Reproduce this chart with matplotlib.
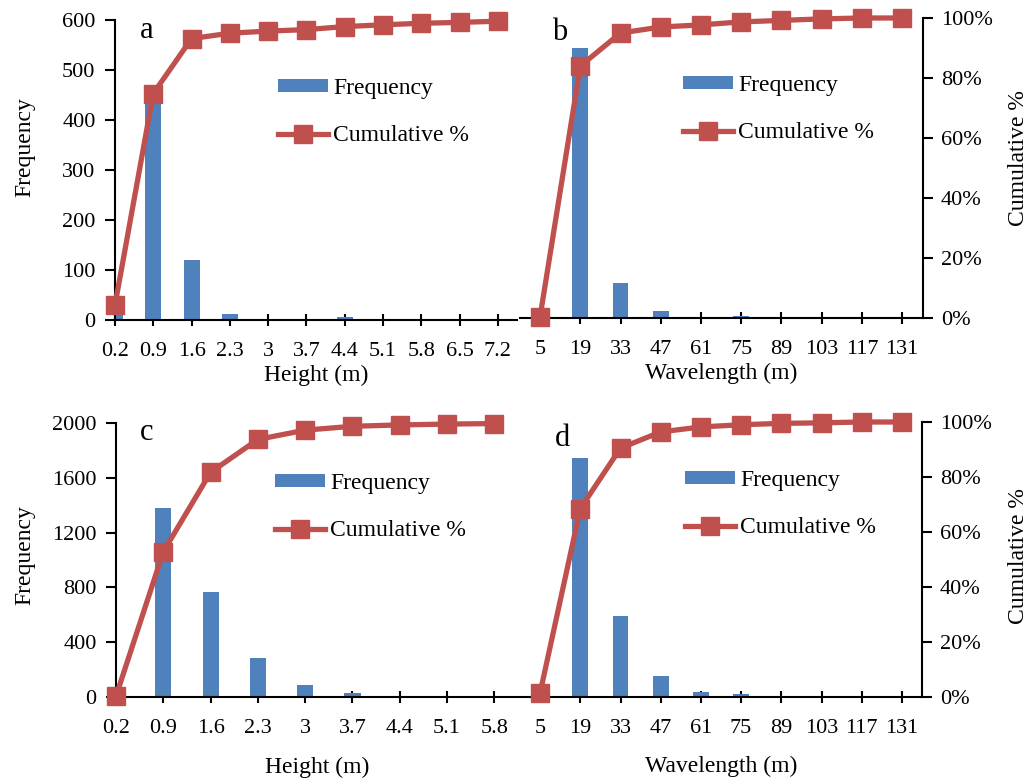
import matplotlib
matplotlib.use("Agg")
import matplotlib.pyplot as plt
from matplotlib.patches import Patch
from matplotlib.lines import Line2D
import numpy as np

plt.rcParams['font.family'] = ['Liberation Serif', 'DejaVu Serif']

# ---------------- data ----------------
a_cats = ['0.2', '0.9', '1.6', '2.3', '3', '3.7', '4.4', '5.1', '5.8', '6.5', '7.2']
a_freq = [30, 440, 120, 12, 3, 2, 6, 2, 0, 0, 0]
a_cum = [5, 75.5, 93.8, 95.6, 96.3, 96.8, 97.8, 98.4, 98.9, 99.2, 99.6]

b_cats = ['5', '19', '33', '47', '61', '75', '89', '103', '117', '131']
b_freq = [3, 540, 70, 14, 2, 5, 0, 2, 0, 0]
b_cum = [0.5, 84, 95, 97, 97.7, 98.7, 99.2, 99.7, 100, 100]

c_cats = ['0.2', '0.9', '1.6', '2.3', '3', '3.7', '4.4', '5.1', '5.8']
c_freq = [5, 1380, 770, 285, 88, 30, 10, 2, 1]
c_cum = [0.3, 53, 82, 94, 97.4, 98.8, 99.3, 99.6, 99.8]

d_cats = ['5', '19', '33', '47', '61', '75', '89', '103', '117', '131']
d_freq = [40, 1740, 590, 150, 40, 20, 2, 0, 0, 0]
d_cum = [1.5, 68.5, 90.5, 96.4, 98.2, 99.0, 99.5, 99.7, 100, 100]

BLUE = '#4F81BD'
RED = '#C0504D'
W, H = 1032, 783
FS = 16
LFS = 17

fig = plt.figure(figsize=(W / 100, H / 100), dpi=100)


def px_axes(left, right, top, bottom):
    return fig.add_axes([left / W, 1 - bottom / H, (right - left) / W, (bottom - top) / H])


panels = [
    # letter, cats, freq, cum, box(l,r,t,b), xlim, ymax, yticks, barw, xlabel, side,
    # letter pos, legend pos, ylabel center y, xlabel pad
    ('a', a_cats, a_freq, a_cum, (115, 517, 20, 320), (0, 10.5), 600, np.arange(0, 601, 100), 0.42,
     'Height (m)', 'left', (147, 30), (278, 78), 147, 3),
    ('b', b_cats, b_freq, b_cum, (520, 923, 18, 318), (-0.5, 9.52), 600, None, 0.39,
     'Wavelength (m)', 'right', (560, 33), (683, 75), 158, 3),
    ('c', c_cats, c_freq, c_cum, (116, 518, 423, 697), (0, 8.5), 2000, np.arange(0, 2001, 400), 0.34,
     'Height (m)', 'left', (147, 433), (275, 473), 555, 14),
    ('d', d_cats, d_freq, d_cum, (520, 922, 422, 697), (-0.5, 9.5), 2000, None, 0.39,
     'Wavelength (m)', 'right', (563, 438), (685, 470), 556, 13),
]

for (letter, cats, freq, cum, box, xlim, ymax, yticks, barw, xlabel, side, lpos, legpos,
     ylab_y, xlpad) in panels:
    l, r, t, b = box
    ax = px_axes(l, r, t, b)
    x = np.arange(len(cats))
    ax.bar(x, freq, width=barw, color=BLUE, zorder=2)
    ax.set_xlim(*xlim)
    ax.set_ylim(0, ymax)
    ax.set_xticks(x)
    ax.set_xticklabels(cats, fontsize=FS)
    ax.tick_params(axis='x', direction='inout', length=9, width=1.5, pad=11)
    for s in ['top', 'right']:
        ax.spines[s].set_visible(False)
    ax.spines['bottom'].set_linewidth(1.5)
    ax.spines['left'].set_linewidth(1.5)

    ax2 = ax.twinx()
    ax2.set_ylim(0, 100)
    ax2.plot(x, cum, color=RED, lw=3.8, marker='s', markersize=13.5, clip_on=False, zorder=5)
    for s in ['top', 'left', 'bottom']:
        ax2.spines[s].set_visible(False)

    ylab_frac = (b - ylab_y) / (b - t)
    if side == 'left':
        ax.set_yticks(yticks)
        ax.set_yticklabels([str(v) for v in yticks], fontsize=FS)
        ax.tick_params(axis='y', direction='out', length=7, width=1.5, pad=7)
        ax.set_ylabel('Frequency', fontsize=LFS)
        ax.yaxis.set_label_coords((35 - l) / (r - l), ylab_frac)
        ax2.spines['right'].set_visible(False)
        ax2.set_yticks([])
    else:
        ax.spines['left'].set_visible(False)
        ax.set_yticks([])
        ax2.spines['right'].set_linewidth(1.5)
        pt = np.arange(0, 101, 20)
        ax2.set_yticks(pt)
        ax2.set_yticklabels([f'{v}%' for v in pt], fontsize=FS)
        ax2.tick_params(axis='y', direction='out', length=7, width=1.5, pad=6)
        ax2.set_ylabel('Cumulative %', fontsize=LFS)
        ax2.yaxis.set_label_coords((1008 - l) / (r - l), ylab_frac)

    ax.set_xlabel(xlabel, fontsize=LFS, labelpad=xlpad)
    ax.text((lpos[0] - l) / (r - l), (b - lpos[1]) / (b - t), letter, transform=ax.transAxes,
            fontsize=22, ha='center', va='center', zorder=10)

    handles = [Patch(facecolor=BLUE, edgecolor='none'),
               Line2D([], [], color=RED, lw=3.8, marker='s', markersize=13.5)]
    ax2.legend(handles, ['Frequency', 'Cumulative %'], loc='upper left',
               bbox_to_anchor=((legpos[0] - l) / (r - l), (b - legpos[1]) / (b - t)),
               frameon=False, fontsize=LFS, borderpad=0, borderaxespad=0,
               handlelength=2.1, handleheight=0.42, handletextpad=0.25,
               labelspacing=1.1, numpoints=1)

fig.savefig('out.png', dpi=100)
